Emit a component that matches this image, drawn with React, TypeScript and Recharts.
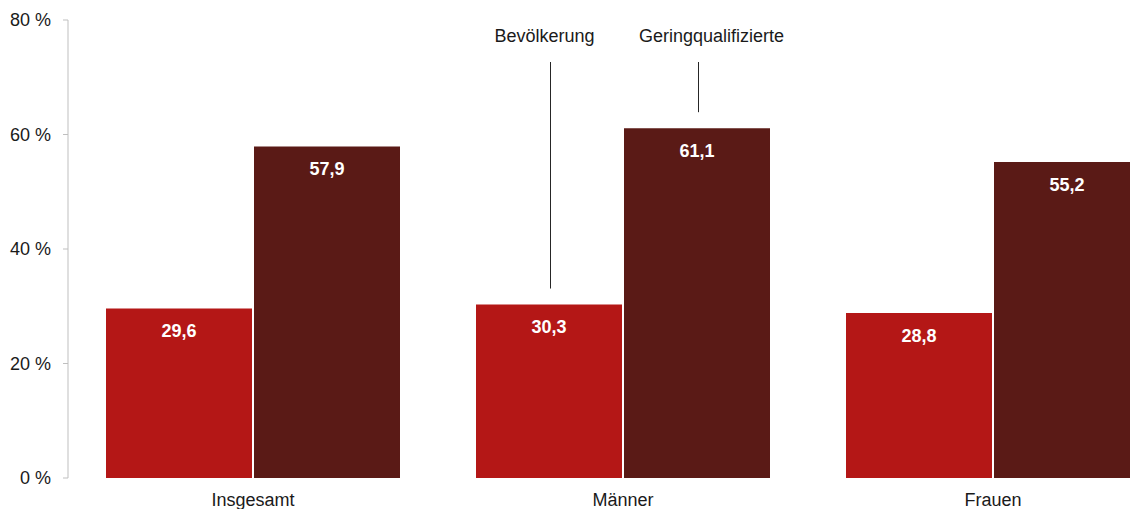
import React from 'react';
import { BarChart, Bar, XAxis, YAxis, LabelList } from 'recharts';

const categories = ['Insgesamt', 'Männer', 'Frauen'];
const bevoelkerung = [29.6, 30.3, 28.8];
const geringqualifizierte = [57.9, 61.1, 55.2];
const yTicks = [0, 20, 40, 60, 80];

const data = categories.map((name, i) => ({
  name,
  bev: bevoelkerung[i],
  ger: geringqualifizierte[i],
}));

const FONT = '"Liberation Sans", Arial, sans-serif';

const fmt = (v: number) => v.toFixed(1).replace('.', ',');

// callout above the Männer bars, pointing down to the bar
const makeCallout = (text: string, dx: number) => (props: any) => {
  const { x, y, width, index } = props;
  if (index !== 1) return null;
  const cx = Math.round(x + width / 2) + 1.5;
  return (
    <g>
      <line x1={cx} x2={cx} y1={62} y2={y - 16} stroke="#262626" strokeWidth={1} />
      <text x={cx + dx} y={42} textAnchor="middle" fontSize={18} fontFamily={FONT} fill="#1a1a1a">
        {text}
      </text>
    </g>
  );
};

const App: React.FC = () => {
  return (
    <div style={{ position: 'fixed', left: 0, top: 0, width: 1130, height: 509, overflow: 'hidden', background: '#fff' }}>
      <BarChart
        width={1178}
        height={509}
        data={data}
        margin={{ top: 20, right: 0, bottom: 0, left: 0 }}
        barCategoryGap={38}
        barGap={2}
      >
        <XAxis
          dataKey="name"
          axisLine={false}
          tickLine={false}
          tickSize={0}
          tickMargin={15}
          height={31}
          tick={{ fontSize: 18, fill: '#1a1a1a', fontFamily: FONT }}
        />
        <YAxis
          domain={[0, 80]}
          ticks={yTicks}
          width={68}
          tickSize={5}
          tickMargin={12}
          tickFormatter={(v: number) => `${v} %`}
          axisLine={{ stroke: '#bfbfbf' }}
          tickLine={{ stroke: '#bfbfbf' }}
          tick={{ fontSize: 18, fill: '#1a1a1a', fontFamily: FONT }}
        />
        <Bar dataKey="bev" fill="#b41716" isAnimationActive={false}>
          <LabelList
            dataKey="bev"
            position="insideTop"
            offset={16}
            formatter={(v: any) => fmt(Number(v))}
            style={{ fill: '#fff', fontSize: 18, fontWeight: 'bold', fontFamily: FONT }}
          />
          <LabelList dataKey="bev" content={makeCallout('Bevölkerung', -6)} />
        </Bar>
        <Bar dataKey="ger" fill="#5a1a16" isAnimationActive={false}>
          <LabelList
            dataKey="ger"
            position="insideTop"
            offset={16}
            formatter={(v: any) => fmt(Number(v))}
            style={{ fill: '#fff', fontSize: 18, fontWeight: 'bold', fontFamily: FONT }}
          />
          <LabelList dataKey="ger" content={makeCallout('Geringqualifizierte', 13)} />
        </Bar>
      </BarChart>
    </div>
  );
};

export default App;
